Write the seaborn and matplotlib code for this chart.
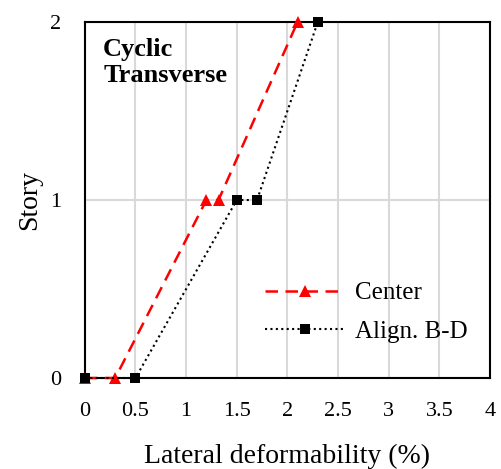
import numpy as np
import pandas as pd
import matplotlib
matplotlib.use("Agg")
import matplotlib.pyplot as plt
import seaborn as sns

# data
story = [0, 0, 1, 1, 2]
center_def = [0, 0.3, 1.2, 1.32, 2.1]
align_def = [0, 0.5, 1.5, 1.7, 2.3]

sns.set_theme(style="white")
plt.rcParams['font.family'] = ['Liberation Serif', 'DejaVu Serif']
plt.rcParams['text.color'] = "black"

fig = plt.figure(figsize=(5.02, 4.69), dpi=100)
ax = fig.add_axes([0.169, 0.194, 0.807, 0.759])

sns.lineplot(x=center_def, y=story, sort=False, estimator=None, ax=ax,
             color="red", linestyle=(0, (5, 3)), linewidth=1.8,
             marker="^", markersize=8, markeredgewidth=0, label="Center",
             clip_on=False, zorder=4)
sns.lineplot(x=align_def, y=story, sort=False, estimator=None, ax=ax,
             color="black", linestyle=(0, (1, 1.6)), linewidth=1.5,
             marker="s", markersize=7, markeredgewidth=0, label="Align. B-D",
             clip_on=False, zorder=5)

ax.set_xlim(0, 4)
ax.set_ylim(0, 2)
ax.set_xticks(np.arange(0, 4.01, 0.5))
ax.set_xticklabels(["0", "0.5", "1", "1.5", "2", "2.5", "3", "3.5", "4"])
ax.set_yticks([0, 1, 2])
ax.grid(True, color="#d9d9d9", linewidth=1.5)
ax.set_axisbelow(True)
for s in ax.spines.values():
    s.set_color("black")
    s.set_linewidth(1.5)
ax.tick_params(axis="both", labelsize=16, colors="black", direction="in",
               length=5, width=1.5, pad=17)

ax.set_xlabel("Lateral deformability (%)", fontsize=20, color="black", labelpad=17)
ax.set_ylabel("Story", fontsize=20, color="black", labelpad=6)

ax.text(0.045, 0.955, "Cyclic\nTransverse", transform=ax.transAxes, fontsize=19,
        fontweight="bold", va="top", ha="left", linespacing=1.15, color="black")

leg = ax.legend(loc="lower right", bbox_to_anchor=(1.0, 0.035), frameon=False,
                fontsize=18, handlelength=3.2, labelspacing=0.65, handletextpad=0.4)
for t in leg.get_texts():
    t.set_color("black")

fig.savefig("out.png", dpi=100)
